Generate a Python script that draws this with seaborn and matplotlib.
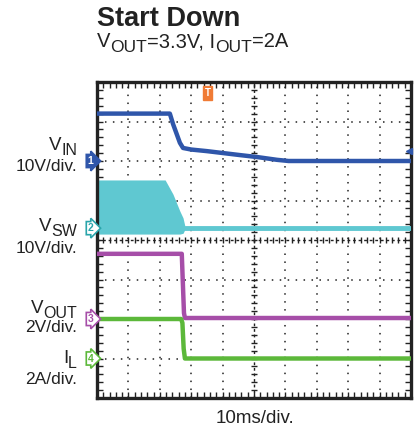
import numpy as np
import pandas as pd
import seaborn as sns
from matplotlib import pyplot as plt
from matplotlib.ticker import MultipleLocator

# Scope traces (time in ms, 10 ms/div)
vin_t = [0, 23.2, 24.2, 26.4, 27.4, 30.0, 35.0, 45.5, 51.0, 57.3, 61.0, 100]
vin_v = [12.0, 12.0, 9.4, 4.6, 3.3, 2.9, 2.5, 1.5, 1.0, 0.3, 0.0, 0.0]

sw_t = [0, 21.7, 24.2, 26.4, 27.4, 28.0]
sw_hi = [12.2, 12.2, 8.6, 4.3, 2.6, 0.5]
sw_lo = [-1.5, -1.5, -1.5, -1.5, -1.3, -0.3]
sw_off_t = [28.0, 100]
sw_off_v = [0.0, 0.0]

vout_t = [0, 27.0, 27.3, 27.7, 28.0, 100]
vout_v = [3.3, 3.3, 2.0, 0.3, 0.05, 0.05]

il_t = [0, 26.8, 27.2, 27.6, 28.0, 100]
il_v = [2.0, 2.0, 1.8, 0.5, 0.0, 0.0]

# channel settings: ground position (div), volts or amps per div
ch_ground = {'VIN': 6.0, 'VSW': 4.3, 'VOUT': 2.0, 'IL': 1.0}
ch_scale = {'VIN': 10, 'VSW': 10, 'VOUT': 2, 'IL': 2}
ms_per_div = 10

c_vin = '#2f56aa'
c_sw = '#5fc8d1'
c_vout = '#a64ea8'
c_il = '#5cb83a'
c_trig = '#f07b35'
c_txt = '#222222'

sns.set_style('white')
plt.rcParams['font.family'] = ['Liberation Sans', 'DejaVu Sans']

W, H = 415, 432
fig = plt.figure(figsize=(W / 100, H / 100), dpi=100)
ax = fig.add_axes([97 / W, (H - 398) / H, 314 / W, 316 / H])
renderer = fig.canvas.get_renderer()


def to_div(vals, ch):
    return [ch_ground[ch] + v / ch_scale[ch] for v in vals]


def t_div(ts):
    return [t / ms_per_div for t in ts]


# grid
for gx in range(1, 10):
    if gx != 5:
        ax.axvline(gx, color=c_txt, lw=1.1, ls=(0, (1, 4.2)), zorder=1)
for gy in range(1, 8):
    if gy != 4:
        ax.axhline(gy, color=c_txt, lw=1.1, ls=(0, (1, 4.2)), zorder=1)
ax.axvline(5, color=c_txt, lw=1.0, ls=(0, (2, 2)), zorder=1)
ax.axhline(4, color=c_txt, lw=1.0, ls=(0, (2, 2)), zorder=1)
minor = np.arange(0, 10.01, 0.2)
ax.plot(minor, [4] * len(minor), ls='none', marker='|', ms=5, mew=1, color=c_txt, zorder=1)
minor_y = np.arange(0, 8.01, 0.2)
ax.plot([5] * len(minor_y), minor_y, ls='none', marker='_', ms=5, mew=1, color=c_txt, zorder=1)

# switch node band and off level
ax.fill_between(t_div(sw_t), to_div(sw_lo, 'VSW'), to_div(sw_hi, 'VSW'),
                color=c_sw, lw=0, zorder=2)
sns.lineplot(x=t_div(sw_off_t), y=to_div(sw_off_v, 'VSW'), ax=ax, color=c_sw,
             lw=3.5, estimator=None, sort=False, zorder=3)

sns.lineplot(x=t_div(vin_t), y=to_div(vin_v, 'VIN'), ax=ax, color=c_vin,
             lw=3.2, estimator=None, sort=False, zorder=4)
sns.lineplot(x=t_div(vout_t), y=to_div(vout_v, 'VOUT'), ax=ax, color=c_vout,
             lw=3.2, estimator=None, sort=False, zorder=4)
sns.lineplot(x=t_div(il_t), y=to_div(il_v, 'IL'), ax=ax, color=c_il,
             lw=3.2, estimator=None, sort=False, zorder=5)

ax.set_xlim(0, 10)
ax.set_ylim(0, 8)
ax.xaxis.set_minor_locator(MultipleLocator(0.2))
ax.yaxis.set_minor_locator(MultipleLocator(0.2))
ax.xaxis.set_major_locator(MultipleLocator(1))
ax.yaxis.set_major_locator(MultipleLocator(1))
ax.tick_params(which='both', direction='in', length=4, width=1, color=c_txt,
               top=True, right=True, bottom=True, left=True,
               labelbottom=False, labelleft=False)
for s in ax.spines.values():
    s.set_linewidth(2.4)
    s.set_color(c_txt)
    s.set_visible(True)

# channel ground markers
markers = [('1', 'VIN', c_vin, True), ('2', 'VSW', '#2aa5ab', False),
           ('3', 'VOUT', c_vout, False), ('4', 'IL', c_il, False)]
for num, ch, col, filled in markers:
    ax.text(-0.2, ch_ground[ch], num, ha='center', va='center', fontsize=7.5,
            fontweight='bold', color='white' if filled else col, clip_on=False,
            bbox=dict(boxstyle='rarrow,pad=0.15', fc=col if filled else 'white',
                      ec=col, lw=1.2), zorder=6)

# trigger marker
ax.text(3.52, 7.72, 'T', ha='center', va='center', fontsize=7, fontweight='bold',
        color='white', bbox=dict(boxstyle='square,pad=0.2', fc=c_trig, ec=c_trig),
        zorder=6)
ax.plot([9.95], [ch_ground['VIN'] + 0.25], marker='<', ms=5, color=c_vin,
        clip_on=False, zorder=6)


def fx(px):
    return px / W


def fy(py):
    return 1 - py / H


def rich(x, y, parts, right=False):
    # parts: (text, fontsize, drop in px); placed one after another
    widths = []
    for txt, size, drop in parts:
        t = fig.text(0, 0, txt, fontsize=size)
        widths.append(t.get_window_extent(renderer).width)
        t.remove()
    x0 = x - sum(widths) if right else x
    for (txt, size, drop), w in zip(parts, widths):
        fig.text(fx(x0), fy(y + drop), txt, fontsize=size, va='baseline', color=c_txt)
        x0 += w


fig.text(fx(97), fy(26), 'Start Down', fontsize=19.5, fontweight='bold',
         color=c_txt, va='baseline')
rich(97, 47, [('V', 14.5, 0), ('OUT', 12.5, 5), ('=3.3V, I', 14.5, 0),
              ('OUT', 12.5, 5), ('=2A', 14.5, 0)])

labels = [('V', 'IN', 150, '10V/div.', 171),
          ('V', 'SW', 231, '10V/div.', 253),
          ('V', 'OUT', 313, '2V/div.', 332),
          ('I', 'L', 363, '2A/div.', 384)]
for name, sub, y1, scale, y2 in labels:
    rich(77, y1, [(name, 13.5, 0), (sub, 11.5, 5)], right=True)
    fig.text(fx(77), fy(y2), scale, fontsize=12.5, ha='right', va='baseline', color=c_txt)

fig.text(fx(255), fy(423), '10ms/div.', fontsize=13.5, ha='center', va='baseline',
         color=c_txt)

fig.savefig('out.png', dpi=100)
